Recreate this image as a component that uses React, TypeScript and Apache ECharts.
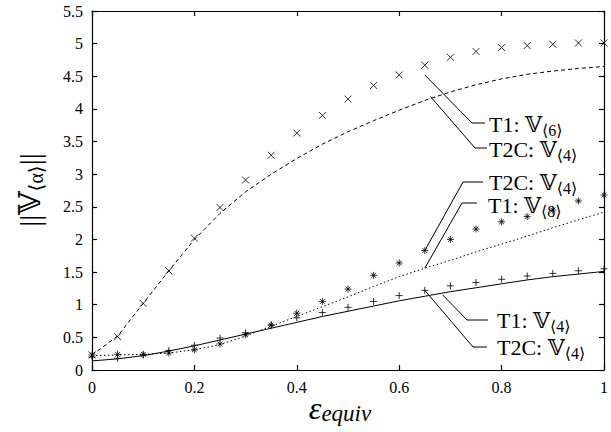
import React, { useEffect, useRef } from "react";
import * as echarts from "echarts";

// epsilon_equiv sample points
const eps = [0, 0.05, 0.1, 0.15, 0.2, 0.25, 0.3, 0.35, 0.4, 0.45, 0.5, 0.55, 0.6, 0.65, 0.7, 0.75, 0.8, 0.85, 0.9, 0.95, 1];

// T1: V<6> (x markers)
const t1V6 = [0.23, 0.51, 1.02, 1.52, 2.02, 2.49, 2.91, 3.29, 3.63, 3.9, 4.15, 4.36, 4.52, 4.67, 4.79, 4.88, 4.94, 4.97, 4.99, 5.01, 5.01];
// T2C: V<4> (dashed line, top)
const t2cV4Dashed = [0.23, 0.52, 1.02, 1.52, 2.0, 2.4, 2.73, 3.0, 3.24, 3.46, 3.65, 3.82, 3.98, 4.13, 4.26, 4.37, 4.46, 4.53, 4.58, 4.62, 4.65];
// T2C: V<4> (asterisk markers, middle)
const t2cV4Star = [0.23, 0.24, 0.24, 0.26, 0.31, 0.4, 0.54, 0.69, 0.87, 1.05, 1.24, 1.45, 1.64, 1.83, 2.0, 2.16, 2.27, 2.35, 2.45, 2.59, 2.68];
// T1: V<8> (dotted line)
const t1V8 = [0.22, 0.23, 0.24, 0.26, 0.31, 0.39, 0.52, 0.67, 0.82, 0.97, 1.12, 1.28, 1.43, 1.56, 1.68, 1.81, 1.93, 2.05, 2.18, 2.3, 2.42];
// T2C: V<4> (plus markers, bottom)
const t2cV4Plus = [0.2, 0.18, 0.23, 0.3, 0.38, 0.49, 0.57, 0.69, 0.8, 0.88, 0.96, 1.05, 1.14, 1.22, 1.29, 1.34, 1.39, 1.44, 1.48, 1.52, 1.55];
// T1: V<4> (solid line)
const t1V4 = [0.14, 0.17, 0.22, 0.29, 0.37, 0.46, 0.55, 0.64, 0.73, 0.82, 0.9, 0.98, 1.06, 1.13, 1.2, 1.26, 1.32, 1.38, 1.43, 1.47, 1.51];

const xMin = 0, xMax = 1, xStep = 0.2;
const yMin = 0, yMax = 5.5, yStep = 0.5;

// annotation labels: name, subscript, anchor (data), elbow & text position (pixels)
const annotations = [
  { name: "T1: 𝕍", sub: "⟨6⟩", anchor: [0.65, 4.52], elbow: [472, 123], end: [485, 123], text: [489, 124] },
  { name: "T2C: 𝕍", sub: "⟨4⟩", anchor: [0.661, 4.19], elbow: [475, 148], end: [487, 148], text: [489, 149] },
  { name: "T2C: 𝕍", sub: "⟨4⟩", anchor: [0.65, 1.83], elbow: [463, 182], end: [483, 182], text: [489, 182] },
  { name: "T1: 𝕍", sub: "⟨8⟩", anchor: [0.65, 1.56], elbow: [462, 203], end: [477, 203], text: [488, 205] },
  { name: "T1: 𝕍", sub: "⟨4⟩", anchor: [0.685, 1.15], elbow: [467, 320], end: [488, 320], text: [497, 320] },
  { name: "T2C: 𝕍", sub: "⟨4⟩", anchor: [0.65, 1.22], elbow: [473, 347], end: [487, 347], text: [497, 347] },
];

const SERIF = "Liberation Serif, DejaVu Serif, serif";
const CROSS = "path://M0,0L10,10M10,0L0,10";
const PLUS = "path://M5,0L5,10M0,5L10,5";
const STAR = "path://M5,0L5,10M0,5L10,5M1.5,1.5L8.5,8.5M8.5,1.5L1.5,8.5";

export default function App() {
  const ref = useRef<HTMLDivElement>(null);
  useEffect(() => {
    document.body.style.margin = "0";
    const chart = echarts.init(ref.current!, null, { renderer: "svg" });
    const pair = (ys: number[]) => eps.map((x, i) => [x, ys[i]]);
    const axisLine = { show: true, onZero: false, lineStyle: { color: "#000", width: 1.2 } };
    const axisTick = { show: true, inside: true, length: 5, lineStyle: { color: "#000", width: 1.2 } };
    const label = { color: "#000", fontFamily: SERIF, fontSize: 16 };
    const scatter = (ys: number[], symbol: string, size: number) => ({
      type: "scatter",
      data: pair(ys),
      symbol,
      symbolSize: size,
      itemStyle: { color: "rgba(0,0,0,0)", borderColor: "#000", borderWidth: 1 },
      silent: true,
      z: 3,
    });
    const line = (ys: number[], type: any) => ({
      type: "line",
      data: pair(ys),
      showSymbol: false,
      symbol: "none",
      lineStyle: { color: "#000", width: 1, type },
      silent: true,
      z: 2,
    });
    chart.setOption({
      animation: false,
      grid: { left: 92, right: 5, top: 11, bottom: 62, containLabel: false },
      xAxis: [
        { type: "value", min: xMin, max: xMax, interval: xStep, position: "bottom", axisLine, axisTick, axisLabel: { ...label, margin: 9 }, splitLine: { show: false } },
        { type: "value", min: xMin, max: xMax, interval: xStep, position: "top", axisLine, axisTick, axisLabel: { show: false }, splitLine: { show: false } },
      ],
      yAxis: [
        { type: "value", min: yMin, max: yMax, interval: yStep, position: "left", axisLine, axisTick, axisLabel: { ...label, margin: 9 }, splitLine: { show: false } },
        { type: "value", min: yMin, max: yMax, interval: yStep, position: "right", axisLine, axisTick, axisLabel: { show: false }, splitLine: { show: false } },
      ],
      series: [
        line(t2cV4Dashed, [4, 3]),
        line(t1V8, [1.5, 2.5]),
        line(t1V4, "solid"),
        scatter(t1V6, CROSS, 7),
        scatter(t2cV4Star, STAR, 7),
        scatter(t2cV4Plus, PLUS, 7),
      ],
    });

    const graphics: any[] = [];
    annotations.forEach((a) => {
      const p = chart.convertToPixel({ gridIndex: 0 }, a.anchor) as number[];
      graphics.push({
        type: "polyline",
        shape: { points: [p, a.elbow, a.end] },
        style: { stroke: "#000", lineWidth: 1, fill: null },
        z: 10,
      });
      graphics.push({
        type: "text",
        x: a.text[0],
        y: a.text[1],
        z: 10,
        style: {
          text: `{a|${a.name}}{s|${a.sub}}`,
          align: "left",
          verticalAlign: "middle",
          fill: "#000",
          rich: {
            a: { fontFamily: SERIF, fontSize: 22, fill: "#000" },
            s: { fontFamily: SERIF, fontSize: 16, fill: "#000", padding: [12, 0, 0, 0] },
          },
        },
      });
    });
    // y axis title
    graphics.push({
      type: "text",
      x: 29,
      y: 190,
      rotation: Math.PI / 2,
      style: {
        text: "{a|||𝕍}{s|⟨α⟩}{a|||}",
        align: "center",
        verticalAlign: "middle",
        rich: {
          a: { fontFamily: SERIF, fontSize: 30, fill: "#000" },
          s: { fontFamily: SERIF, fontSize: 20, fill: "#000", padding: [14, 0, 0, 0] },
        },
      },
    });
    // x axis title
    graphics.push({
      type: "text",
      x: 340,
      y: 408,
      style: {
        text: "{a|ε}{s|equiv}",
        align: "center",
        verticalAlign: "middle",
        rich: {
          a: { fontFamily: SERIF, fontSize: 32, fontStyle: "italic", fill: "#000" },
          s: { fontFamily: SERIF, fontSize: 23, fontStyle: "italic", fill: "#000", padding: [10, 0, 0, 0] },
        },
      },
    });
    chart.setOption({ graphic: graphics });
    return () => chart.dispose();
  }, []);
  return <div ref={ref} style={{ position: "absolute", left: 0, top: 0, width: 611, height: 432 }} />;
}
